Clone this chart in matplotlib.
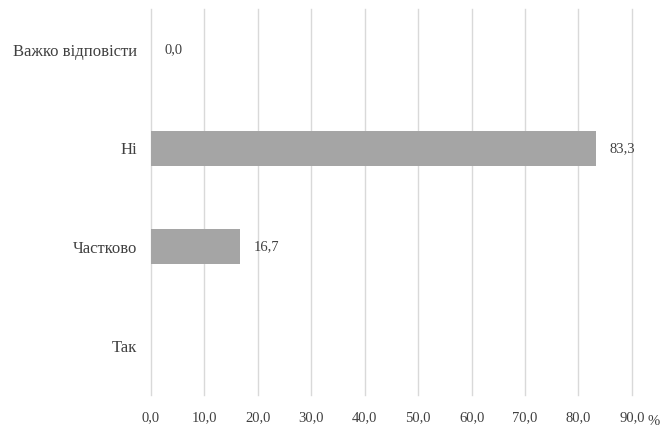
import matplotlib.pyplot as plt
import numpy as np

categories = ["Так", "Частково", "Ні", "Важко відповісти"]
values = [np.nan, 16.7, 83.3, 0.0]
xticks = [0, 10, 20, 30, 40, 50, 60, 70, 80, 90]

plt.rcParams['font.family'] = ['Liberation Serif', 'DejaVu Serif']

fig = plt.figure(figsize=(6.63, 4.34), dpi=100)
ax = fig.add_axes([0.2278, 0.09, 0.7253, 0.889])

y = np.arange(len(categories))
ax.barh(y, np.nan_to_num(values), height=0.355, color='#a5a5a5', zorder=3)

for yi, v in zip(y, values):
    if np.isnan(v):
        continue
    ax.annotate(f"{v:.1f}".replace(".", ","), xy=(v, yi), xytext=(10, 0),
                textcoords='offset points', va='center', ha='left',
                fontsize=10.5, color='#404040')

ax.set_xlim(0, 90)
ax.set_ylim(-0.5, 3.41)
ax.set_yticks(y)
ax.set_yticklabels(categories, fontsize=12, color='#404040')
ax.set_xticks(xticks)
ax.set_xticklabels([f"{t:.1f}".replace(".", ",") for t in xticks], fontsize=10.5, color='#404040')
ax.tick_params(length=0, pad=12)
ax.tick_params(axis='y', pad=10)
ax.grid(axis='x', color='#d9d9d9', linewidth=1, zorder=0)
for gl in ax.get_xgridlines():
    gl.set_clip_on(False)
for s in ax.spines.values():
    s.set_visible(False)

fig.text(0.976, 0.02, "%", fontsize=10.5, color='#404040', ha='left')

fig.savefig("out.png", dpi=100)
